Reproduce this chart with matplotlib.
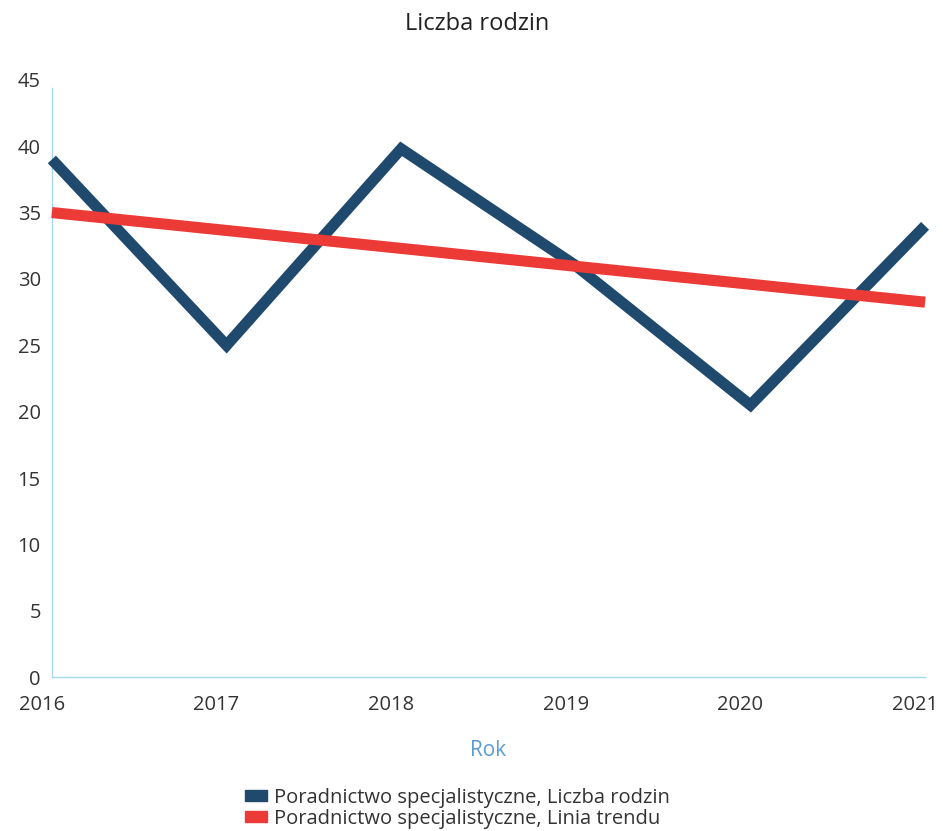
import numpy as np
import matplotlib.pyplot as plt
import matplotlib.transforms as mtransforms
from matplotlib.patches import Patch

plt.rcParams['font.family'] = ['Open Sans', 'DejaVu Sans']

# data
years = [2016, 2017, 2018, 2019, 2020, 2021]
liczba_rodzin = [39, 25, 39.8, 31, 20.5, 34]
linia_trendu = [35.0, 33.65, 32.3, 30.95, 29.6, 28.25]
y_ticks = [0, 5, 10, 15, 20, 25, 30, 35, 40, 45]

darkBlue = '#1f4a6e'
red = '#ec3a37'
axisBlue = '#a8d8ef'
textCol = '#333333'

fig = plt.figure(figsize=(9.43, 8.31), dpi=100)
ax = fig.add_axes([0.055, 0.185, 0.926, 0.719])

ax.plot(years, liczba_rodzin, color=darkBlue, lw=8, solid_capstyle='butt',
        solid_joinstyle='miter', clip_on=False, zorder=3)
ax.plot(years, linia_trendu, color=red, lw=8, solid_capstyle='butt',
        clip_on=False, zorder=4)

ax.set_xlim(2016, 2021)
ax.set_ylim(0, 45)
ax.set_xticks(years)
ax.set_yticks(y_ticks)
ax.tick_params(length=0, labelsize=14.5, colors=textCol)
ax.tick_params(axis='y', pad=8)
ax.tick_params(axis='x', pad=13)
# labels sit a bit left of the ticks in the original
shift = mtransforms.ScaledTranslation(-10 / 100, 0, fig.dpi_scale_trans)
for lab in ax.get_xticklabels():
    lab.set_transform(lab.get_transform() + shift)

for s in ['top', 'right']:
    ax.spines[s].set_visible(False)
for s in ['left', 'bottom']:
    ax.spines[s].set_color(axisBlue)
    ax.spines[s].set_linewidth(1)
ax.spines['left'].set_bounds(0, 44.4)

ax.set_xlabel('Rok', color='#5b9bd5', fontsize=15, labelpad=18)
fig.suptitle('Liczba rodzin', x=0.506, y=0.985, fontsize=17, color='#222222')

handles = [Patch(color=darkBlue, label='Poradnictwo specjalistyczne, Liczba rodzin'),
           Patch(color=red, label='Poradnictwo specjalistyczne, Linia trendu')]
fig.legend(handles=handles, loc='lower center', bbox_to_anchor=(0.485, -0.019),
           frameon=False, fontsize=14.5, handlelength=1.1, handleheight=0.5,
           handletextpad=0.3, labelspacing=0.05, labelcolor=textCol)

fig.savefig('out.png', dpi=100)
